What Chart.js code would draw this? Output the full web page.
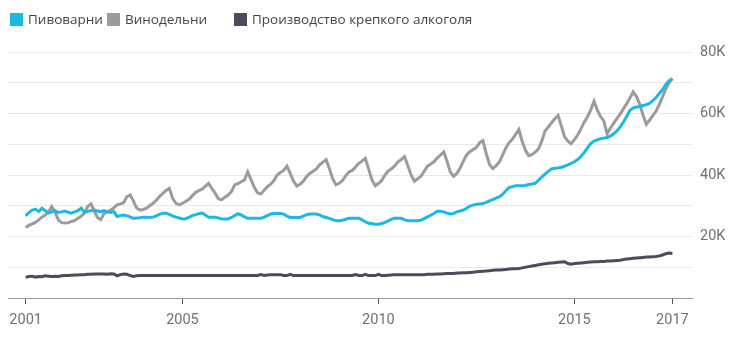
<!DOCTYPE html>
<html>
<head>
<meta charset="utf-8">
<script src="https://cdn.jsdelivr.net/npm/chart.js@4.4.0/dist/chart.umd.min.js"></script>
<style>
  body { margin: 0; background: #fff; }
  #wrap { position: relative; width: 742px; height: 339px; }
  #legend { position: absolute; left: 0; top: 0; font: 13.5px "Open Sans", sans-serif; color: #444; }
  .item { position: absolute; top: 9px; display: flex; align-items: center; white-space: nowrap; line-height: 20px; }
  .box { width: 13px; height: 13px; margin-right: 5px; }
</style>
</head>
<body>
<div id="wrap">
  <canvas id="myChart" width="742" height="339"></canvas>
  <div id="legend"></div>
</div>
<script>
// месячные данные, янв 2001 - июл 2017, тыс.
const tickYears = ['2001', '2005', '2010', '2015', '2017'];
const tickMonths = [0, 48, 108, 168, 198];

const breweries = [
  26.7, 27.8, 28.6, 28.9, 28.1, 29.2, 28.4, 27.6, 28.0, 28.4, 27.8, 28.0,
  28.3, 27.9, 27.6, 28.0, 28.4, 29.2, 27.8, 28.2, 28.4, 28.6, 28.3, 28.1,
  28.4, 28.0, 27.8, 28.1, 26.5, 26.8, 27.0, 26.7, 26.4, 25.9, 26.0, 26.1,
  26.3, 26.3, 26.2, 26.3, 26.7, 27.2, 27.6, 27.6, 27.2, 26.7, 26.3, 26.0,
  25.7, 25.8, 26.2, 26.8, 27.1, 27.4, 27.6, 27.0, 26.3, 26.3, 26.3, 26.0,
  25.7, 25.7, 25.7, 26.2, 26.8, 27.4, 27.0, 26.4, 25.9, 25.9, 25.9, 25.9,
  25.9, 26.3, 26.8, 27.3, 27.5, 27.5, 27.5, 27.3, 26.6, 26.2, 26.2, 26.2,
  26.2, 26.6, 27.1, 27.3, 27.3, 27.3, 27.0, 26.5, 26.2, 25.9, 25.5, 25.1,
  25.1, 25.3, 25.6, 25.9, 25.9, 25.9, 25.9, 25.4, 24.8, 24.3, 24.2, 24.0,
  24.0, 24.2, 24.6, 25.1, 25.6, 25.9, 25.9, 25.9, 25.4, 25.1, 25.1, 25.1,
  25.1, 25.3, 25.8, 26.4, 26.9, 27.5, 28.2, 28.2, 28.0, 27.6, 27.3, 27.5,
  28.0, 28.3, 28.6, 29.2, 29.9, 30.2, 30.5, 30.6, 30.7, 31.1, 31.6, 32.0,
  32.5, 32.9, 33.7, 34.9, 35.9, 36.2, 36.5, 36.5, 36.5, 36.6, 36.9, 37.1,
  37.3, 38.3, 39.3, 40.3, 41.2, 42.0, 42.2, 42.3, 42.5, 42.9, 43.3, 43.8,
  44.3, 45.0, 46.0, 47.3, 48.8, 50.2, 51.0, 51.4, 51.8, 52.0, 52.2, 52.6,
  53.4, 54.3, 55.6, 57.2, 59.0, 61.0, 61.8, 62.1, 62.3, 62.6, 62.9, 63.3,
  64.2, 65.2, 66.5, 67.8, 69.5, 70.7, 71.3
];

const wineries = [
  22.9, 23.6, 24.1, 24.6, 25.4, 26.3, 27.0, 28.0, 29.7, 28.0, 25.4, 24.5,
  24.4, 24.5, 24.9, 25.2, 25.9, 26.6, 27.6, 29.8, 30.6, 28.3, 26.2, 25.5,
  27.5, 28.0, 28.6, 29.3, 30.3, 30.6, 31.0, 33.0, 33.5, 31.5, 29.3, 28.6,
  28.8, 29.2, 30.0, 30.8, 31.8, 33.0, 34.0, 35.0, 35.7, 32.4, 30.8, 30.3,
  30.8, 31.4, 32.1, 33.2, 34.3, 34.9, 35.4, 36.3, 37.3, 35.6, 34.1, 32.3,
  31.9, 32.8, 33.5, 34.6, 36.8, 37.2, 37.8, 38.4, 41.0, 38.5, 36.0, 34.2,
  33.8, 35.0, 36.2, 37.0, 38.2, 40.0, 40.8, 41.5, 42.9, 40.5, 38.0, 36.4,
  37.0, 38.0, 39.5, 40.5, 41.2, 42.0, 43.3, 44.2, 45.0, 42.0, 38.8, 36.8,
  37.3, 38.2, 39.8, 41.0, 41.5, 42.6, 43.8, 44.5, 45.4, 42.0, 38.5, 36.5,
  37.2, 38.2, 40.0, 41.3, 42.0, 43.0, 44.3, 45.0, 46.0, 43.0, 40.0, 38.0,
  38.8, 39.6, 41.2, 42.8, 43.6, 44.3, 45.5, 46.5, 47.5, 44.5, 41.0, 39.6,
  40.5, 42.3, 44.5, 46.5, 47.6, 48.3, 49.0, 50.5, 51.2, 47.0, 43.5, 42.1,
  43.0, 44.2, 46.5, 48.8, 50.5, 51.6, 53.2, 54.8, 51.0, 48.1, 46.3, 46.6,
  47.4, 48.5, 51.0, 54.3, 55.6, 57.0, 58.3, 59.4, 56.0, 52.4, 51.0, 50.2,
  51.5, 53.0, 55.0, 57.2, 58.9, 61.2, 64.0, 61.2, 59.0, 57.6, 53.4, 55.2,
  56.8, 58.3, 59.8, 61.5, 63.2, 65.0, 67.0, 65.5, 63.0, 59.5, 56.5, 57.8,
  59.3, 60.8, 63.0, 65.5, 68.0, 70.0, 71.4
];

const spirits = [
  6.7, 7.0, 7.1, 6.8, 7.0, 6.9, 7.2, 7.1, 7.0, 7.1, 7.0, 7.2,
  7.3, 7.3, 7.4, 7.5, 7.5, 7.6, 7.6, 7.7, 7.7, 7.8, 7.8, 7.8,
  7.8, 7.7, 7.9, 7.8, 7.2, 7.6, 7.8, 7.7, 7.3, 7.0, 7.2, 7.3,
  7.3, 7.3, 7.3, 7.3, 7.3, 7.3, 7.3, 7.3, 7.3, 7.3, 7.3, 7.3,
  7.3, 7.3, 7.3, 7.3, 7.3, 7.3, 7.3, 7.3, 7.3, 7.3, 7.3, 7.3,
  7.3, 7.3, 7.3, 7.3, 7.3, 7.3, 7.3, 7.3, 7.3, 7.3, 7.3, 7.3,
  7.6, 7.3, 7.5, 7.6, 7.6, 7.6, 7.6, 7.3, 7.3, 7.7, 7.3, 7.3,
  7.3, 7.3, 7.3, 7.3, 7.3, 7.3, 7.3, 7.3, 7.3, 7.3, 7.3, 7.3,
  7.3, 7.3, 7.3, 7.3, 7.3, 7.6, 7.3, 7.3, 7.7, 7.3, 7.3, 7.3,
  7.7, 7.3, 7.3, 7.4, 7.5, 7.6, 7.6, 7.6, 7.6, 7.6, 7.6, 7.6,
  7.6, 7.6, 7.6, 7.7, 7.7, 7.7, 7.8, 7.8, 7.9, 8.0, 8.0, 8.0,
  8.1, 8.1, 8.2, 8.2, 8.3, 8.4, 8.5, 8.6, 8.7, 8.8, 8.9, 9.0,
  9.1, 9.1, 9.2, 9.3, 9.4, 9.5, 9.5, 9.6, 9.8, 10.0, 10.2, 10.4,
  10.6, 10.8, 11.0, 11.1, 11.3, 11.4, 11.5, 11.6, 11.7, 11.8, 11.2, 11.0,
  11.2, 11.3, 11.4, 11.5, 11.6, 11.7, 11.8, 11.8, 11.9, 11.9, 12.0, 12.0,
  12.1, 12.2, 12.3, 12.5, 12.7, 12.8, 12.9, 13.0, 13.1, 13.2, 13.3, 13.3,
  13.4, 13.5, 13.7, 14.0, 14.4, 14.6, 14.5
];

const seriesNames = ['Пивоварни', 'Винодельни', 'Производство крепкого алкоголя'];
const seriesColors = ['#1bb8e5', '#9b9b9b', '#4c4b59'];
const legendLeft = [10, 107, 234];

// точки {x: номер месяца, y: значение}
function toPoints(values) {
  return values.map((v, i) => ({ x: i, y: v }));
}

const datasets = [breweries, wineries, spirits].map((values, i) => ({
  label: seriesNames[i],
  data: toPoints(values),
  borderColor: seriesColors[i],
  backgroundColor: seriesColors[i],
  borderWidth: 3,
  pointRadius: 0,
  tension: 0,
  fill: false
}));

// легенда отдельно, чтобы поставить пункты как нужно
const legend = document.getElementById('legend');
datasets.forEach((ds, i) => {
  const item = document.createElement('div');
  item.className = 'item';
  item.style.left = legendLeft[i] + 'px';
  item.innerHTML = '<span class="box" style="background:' + ds.borderColor + '"></span>' + ds.label;
  legend.appendChild(item);
});

const tickFont = { family: 'Roboto', size: 14.5 };

const ctx = document.getElementById('myChart').getContext('2d');
const myChart = new Chart(ctx, {
  type: 'line',
  data: { datasets: datasets },
  options: {
    responsive: false,
    animation: false,
    layout: { padding: { top: 52, left: 8, right: 0, bottom: 0 } },
    plugins: { legend: { display: false }, tooltip: { enabled: false } },
    scales: {
      x: {
        type: 'linear',
        min: -5.4,
        max: 204,
        afterBuildTicks: scale => { scale.ticks = tickMonths.map(v => ({ value: v })); },
        afterFit: scale => { scale.height = 41; },
        grid: { drawOnChartArea: false, drawTicks: true, tickLength: 6, color: '#555' },
        border: { display: true, color: '#999', width: 1 },
        ticks: {
          autoSkip: false,
          maxRotation: 0,
          padding: 8,
          color: '#707070',
          font: tickFont,
          callback: v => tickYears[tickMonths.indexOf(v)]
        }
      },
      y: {
        position: 'right',
        min: 0,
        max: 80,
        afterFit: scale => { scale.width = 50; },
        grid: { color: '#e8e8e8', drawTicks: false },
        border: { display: false },
        ticks: {
          stepSize: 10,
          padding: 8,
          color: '#707070',
          font: tickFont,
          callback: v => (v % 20 === 0 && v > 0) ? v + 'K' : ''
        }
      }
    }
  }
});
</script>
</body>
</html>
